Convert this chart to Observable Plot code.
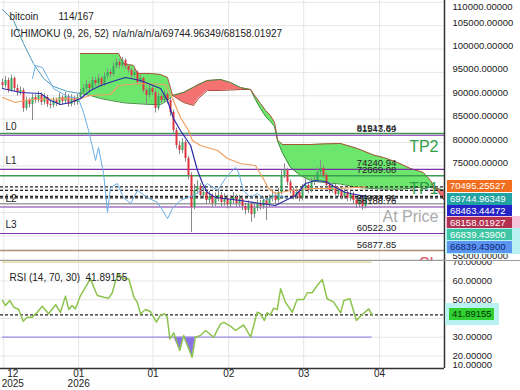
<!DOCTYPE html>
<html><head><meta charset="utf-8">
<script src="https://cdn.jsdelivr.net/npm/d3@7"></script>
<script src="https://cdn.jsdelivr.net/npm/@observablehq/plot@0.6"></script>
<style>
body{margin:0;background:#fff;font-family:"Liberation Sans",Arial,sans-serif;}
#wrap{position:relative;width:520px;height:390px;overflow:hidden;background:#fff;}
#wrap svg{position:absolute;left:0;}
.tag{position:absolute;height:12px;line-height:12px;font-size:9.5px;white-space:nowrap;box-sizing:border-box;}
.halo{position:absolute;}
</style></head><body><div id="wrap"></div><script>
// ---------- data ----------
const firstOpen = 92800;
const closes = [92194,93264,91124,93692,91552,90696,91124,87272,88984,88128,
89626,88984,90054,88556,89626,88128,87914,88984,88342,89626,
88770,89840,88128,89412,88556,89626,90696,91552,92408,91552,
93264,92622,93692,92408,94120,94976,94548,96260,97116,96474,
97544,96260,95404,94334,94976,92836,93692,91124,90054,91552,
90696,87272,89840,88984,90268,88984,86416,82564,79354,78284,
79996,76572,72934,66086,69724,70580,68654,69296,67584,68440,
66942,68012,68654,67156,68012,66728,67584,68226,66942,67798,
66300,65444,66728,64588,65872,66942,66300,67584,66728,68012,
68654,67584,69296,72934,74004,71436,69724,68440,69296,68012,
70152,70794,69724,71436,71864,73576,74432,72934,70794,69724,
70580,68868,69724,68440,69296,68012,68868,67584,66728,67584,
66300,68158];
const highs = [93600,94100,93800,94400,94000,92300,91900,91600,89700,89500,
90300,90200,90900,90600,90400,90100,88800,89600,89500,90500,
90000,90700,90300,90200,89900,90300,91400,92300,93200,92900,
94000,93900,94500,94100,94900,95800,95600,97000,97900,97700,
98200,97900,96700,95900,95700,95300,94400,94000,91700,92200,
92000,91200,90500,90400,91000,90700,89400,86900,83100,80200,
80800,80400,77000,73500,71000,71800,71200,70400,69900,69500,
69000,69200,70000,69300,69000,68700,68600,69300,68800,68700,
68400,67000,67500,67200,66700,67700,67600,68300,68200,68800,
69500,69200,70200,74100,75400,74500,72000,70300,70000,69900,
71000,72600,71300,72300,72800,74600,76100,75000,73400,71400,
71300,71000,70400,70200,70000,69800,69600,69400,68100,68300,
68000,68800];
const lows = [91500,91700,90600,90800,90900,89900,90100,86500,86800,87400,
84700,88300,88500,87900,88000,87500,87200,87400,87700,87900,
88100,88300,87500,87600,87900,88000,89100,90200,91000,90900,
91100,92000,92100,91800,92000,93600,93900,94100,95700,95800,
96000,95600,94800,93700,93800,92200,92300,90500,88000,89500,
90000,86300,86800,88300,88400,88200,85600,81800,78600,77400,
77600,75800,72000,60700,65600,68900,67800,67900,66700,66900,
66000,66300,67300,66200,66400,65800,66000,66900,66100,66200,
65400,64500,64800,62900,63800,65200,65500,65700,63300,66100,
67300,66800,67000,68800,72300,70800,69000,67700,67900,67300,
67500,69600,69000,69200,70800,71300,73000,72300,70100,69000,
69100,68200,68300,67700,67900,67300,67400,66800,65900,66100,
65500,65800];

const tenkanIdx = [0,6,12.7,16,19.3,22.7,26,29.3,32.7,37.7,41,46,52.7,55,57,59.3,62.7,65,66.7,68.3,71,79.3,86,91,94.3,97.7,101,104.3,107.7,111,114.3,117.7,121];
const tenkanVal = [91552,90696,90482,88984,88128,88556,89412,91124,92194,93264,93906,93264,91552,88984,85132,82564,79354,74004,71222,69296,68226,67584,66942,66514,67584,68654,71222,71864,71650,70366,69296,68868,68463.44472];

const kijunIdx = [0,4.3,9.3,26,29.3,36,38.7,46,54.3,56.7,59.3,62,63.3,66,71.7,75,79.3,84.3,86.7,88.7,91,96,102.7,111,121];
const kijunVal = [89626,88556,89198,89412,90054,90268,92194,92622,92408,89412,85346,82564,80424,79354,78284,76572,75502,75074,72506,70152,69082,69724,70152,70152,70495.25527];

const leadIdx = [0,3.7,7,10.3,13.7,17,21.7,26];
const leadVal = [108458,106104,101182,96902,93692,91980,90910,90482];

const cloudIdx = [26,29.3,32.7,36,38.7,40.3,43.7,45,49.3,52.7,55,56.7,60.3,63.7,65.3,68.3,72.7,76,79.3,82.7,84.3,86,87.7,89.3,90.7,91.7,93.3,96,99.3,102.7,107,112.7,118.3,123.7,127,131.7,136,140.3,142.7,144,145,147.3];
const cloudA = [90482,90054,89412,88984,88700,88500,88342,88300,88128,88128,88984,90054,90696,91800,92400,93264,93478,92836,91766,91338,89198,87272,85560,84490,83400,80300,77800,74646,72934,71864,71436,71100,70366,70152,70050,70000,70200,70500,70366,70250,70150,69745];
const cloudB = [99042,99042,99042,99042,99042,96902,96474,94762,94762,94548,93906,90054,88556,87914,89412,91124,91124,91230,91338,91338,89840,88342,86844,85774,84276,80500,79568,79568,79568,79568,79700,79782,78712,77300,76786,75716,74432,73576,71864,70250,69724,67584];

const chikouIdx = [10,11,13.3,17,21.7,25.3,27,28.7,31,32,33.7,35,36,38.3,40.3,42.7,45,48.3,51.7,55,56.7,59.3,61.7,63.7,66,68.3,71.7,74.3,76,77.7,78.7,80.3,82.7,85,87.7,91,95];
const chikouVal = [93692,96474,96046,91552,89840,89412,86416,82564,76144,78926,73362,65016,70366,71222,68226,66942,69724,68226,67156,63732,65872,67584,68226,68654,69724,71222,69724,72292,73576,74646,73576,69724,68226,69082,67584,68654,68158];

const rsiIdx = [0,1,2.4,3.8,5.4,6.9,8.2,9.9,11.6,13.2,15.4,17.7,19.3,21,22.1,23.2,24.3,26,29.3,31.6,33.8,35.4,36.6,37.7,38.8,39.9,42.1,43.8,44.9,46,47.7,49.3,51.3,52.7,54,54.9,55.8,57.1,59.1,60.4,63.2,64.3,66,67.7,70.4,72.7,73.8,76,77.7,80.4,82.7,84.9,86,87.3,88.2,89.3,90.4,91.6,92.7,94.3,96.6,98.2,100.4,101.6,103.2,104.9,106.6,108.2,110.4,112.7,113.8,115.8,118,119.3,122.1,123.2];
const rsiVal = [49.6,46.9,49.6,46.0,44.8,38.5,40.7,40.7,43.3,46.5,42.5,47.3,43.3,51.9,44.8,46.9,45.1,52.2,61.1,52.2,51.3,50.8,53.7,60.2,63.8,61.5,61.1,51.3,48.7,42.5,44.8,43.7,38.0,41.9,42.5,40.7,29.1,32.3,22.9,30.9,19.3,30.0,30.9,33.6,30.0,37.1,37.9,35.9,33.6,36.6,30.0,43.3,42.5,38.9,43.0,41.9,45.5,44.8,55.8,48.7,43.3,50.1,50.1,53.7,53.7,57.6,60.8,50.5,48.7,43.0,49.6,50.5,38.9,41.2,45.1,41.89155];
const rsiLevels = [70, 30];
const rsiTicks = [70, 60, 50, 30, 20];
const rsiGrid = [60, 50, 40, 30, 20];

const levelValues = [81917.84, 81543.69, 74240.94, 72869.08, 66888.31, 66188.76, 60522.30, 56877.85];
const levelKind = ["TP","L","L","TP","AP","L","L","SL"];
const pivotNames = ["L0","L1","L2","L3"];
const signValues = [81917.84, 72869.08, 66888.31, 56877.85];
const signNames = ["TP2","TP1","At Price","SL"];
const dashValues = [70495.25527, 69744.96349, 68463.44472, 68158.01927];
const tagValues = [70495.25527, 69744.96349, 68463.44472, 68158.01927, 66839.43900, 66839.43900];

const priceTicks = [55000,60000,65000,70000,75000,80000,85000,90000,95000,100000,105000,110000];
const xTickIdx = [0.43, 25.4, 50.2, 75.4, 100.4, 125.7];
const xTickLabels = ["12\n2025","01\n2026","01","02","03","04"];

// ---------- styles ----------
const font = '"Liberation Sans", Arial, sans-serif';
const tagBg = ["#f26d1d","#22a3a3","#2424c8","#b3304e","#3fc6a4","#5b95ee"];
const tagFg = ["#fff","#fff","#fff","#fff","#fff","#0b1f7a"];
const grid = "#e6e6e6";

// ---------- tables ----------
const xDomain = [-2/3, 442/3];
const candles = closes.map((c,i)=>({i, o: i ? closes[i-1] : firstOpen, c, h: highs[i], l: lows[i]}));
const pts = (idx, val) => idx.map((i,k)=>({i, v: val[k]}));
const tenkan = pts(tenkanIdx, tenkanVal), kijun = pts(kijunIdx, kijunVal);
const lead = pts(leadIdx, leadVal), chikou = pts(chikouIdx, chikouVal), rsi = pts(rsiIdx, rsiVal);
const cloud = cloudIdx.map((i,k)=>({i, a: cloudA[k], b: cloudB[k]}));
const cloudRows = [];
{ let seg = 0, cur = [], sign = 0;
  const flush = () => { if (cur.length > 1) cur.forEach(d => cloudRows.push({...d, seg, sign})); seg++; };
  for (const d of cloud) {
    const s = Math.sign(d.b - d.a);
    if (s === 0) { cur.push(d); flush(); cur = [d]; sign = 0; continue; }
    if (sign !== 0 && s !== sign) { const last = cur[cur.length-1]; flush(); cur = [last]; }
    sign = s; cur.push(d);
  }
  flush();
}
const levels = levelValues.map((v,k)=>({v, kind: levelKind[k]}));
const pivots = levels.filter(d=>d.kind==="L").map((d,k)=>({...d, name: pivotNames[k]}));
const signs = signValues.map((v,k)=>({v, name: signNames[k]}));
const xTicks = xTickIdx.map((i,k)=>({i, label: xTickLabels[k]}));
const fmt5 = d3.format(".5f");
const lastRsi = rsi[rsi.length-1];

const main = Plot.plot({
  width: 520, height: 260, marginTop: 0, marginBottom: 0, marginLeft: 0, marginRight: 76,
  style: {fontFamily: font, fontSize: "9.5px", background: "white", overflow: "hidden"},
  x: {domain: xDomain, axis: null},
  y: {domain: [54744, 110384], axis: null},
  marks: [
    Plot.ruleY(priceTicks, {stroke: grid}),
    Plot.ruleX(xTickIdx, {stroke: grid}),
    Plot.areaY(cloudRows, {filter: d => d.sign > 0, x: "i", y1: "a", y2: "b", z: "seg", fill: "#6ce66c"}),
    Plot.areaY(cloudRows, {filter: d => d.sign < 0, x: "i", y1: "a", y2: "b", z: "seg", fill: "#f47272"}),
    Plot.line(cloud, {x: "i", y: "a", stroke: "#3b8f3b", strokeWidth: 1}),
    Plot.line(cloud, {x: "i", y: "b", stroke: "#a8503a", strokeWidth: 1}),
    Plot.line(lead, {x: "i", y: "v", stroke: "#4d9cc0", strokeWidth: 1}),
    Plot.ruleY(levels, {filter: d => d.kind === "TP", y: "v", stroke: "#3d9b52", strokeWidth: 1.4}),
    Plot.ruleY(levels, {filter: d => d.kind === "L", y: "v", stroke: "#7b2fa8", strokeWidth: 1.2}),
    Plot.ruleY(levels, {filter: d => d.kind === "AP", y: "v", stroke: "#a0a0a0", strokeWidth: 1.4}),
    Plot.ruleY(levels, {filter: d => d.kind === "SL", y: "v", stroke: "#a88f7e", strokeWidth: 1.4}),
    Plot.ruleY(dashValues, {stroke: "#222", strokeDasharray: "3,2", strokeWidth: 1.3}),
    Plot.ruleX(candles, {x: "i", y1: "l", y2: "h", stroke: "#8a8a8a", strokeWidth: 1}),
    Plot.ruleX(candles, {filter: d => d.c >= d.o, x: "i", y1: "o", y2: "c", stroke: "#36a85a", strokeWidth: 2}),
    Plot.ruleX(candles, {filter: d => d.c < d.o, x: "i", y1: "o", y2: "c", stroke: "#e0333f", strokeWidth: 2}),
    Plot.line(chikou, {x: "i", y: "v", stroke: "#6aaee6", strokeWidth: 1}),
    Plot.line(kijun, {x: "i", y: "v", stroke: "#f0a060", strokeWidth: 1.2}),
    Plot.line(tenkan, {x: "i", y: "v", stroke: "#2a2aa8", strokeWidth: 1.2}),
    Plot.ruleX([xDomain[1]], {stroke: "#333", strokeWidth: 1.5}),
    // level value labels
    Plot.text(levels, {y: "v", text: d => d.v.toFixed(2), frameAnchor: "right", dx: -68, dy: -6, textAnchor: "middle", fill: "#222", fontSize: 9.5}),
    Plot.text(pivots, {y: "v", text: "name", frameAnchor: "left", dx: 5, dy: -8.5, textAnchor: "start", fill: "#222", fontSize: 10}),
    Plot.text(signs, {filter: d => d.name.startsWith("TP"), y: "v", text: "name", frameAnchor: "right", dx: -6, dy: 13, textAnchor: "end", fill: "#2f9d4a", fontSize: 16}),
    Plot.text(signs, {filter: d => d.name === "At Price", y: "v", text: "name", frameAnchor: "right", dx: -6, dy: 13, textAnchor: "end", fill: "#aaaaaa", fontSize: 16}),
    Plot.text(signs, {filter: d => d.name === "SL", y: "v", text: "name", frameAnchor: "right", dx: -6, dy: 13, textAnchor: "end", fill: "#e0506a", fontSize: 16}),
    // price axis labels
    Plot.text(priceTicks.filter(t => t < 110000), {y: d => d, text: fmt5, frameAnchor: "right", dx: 8, dy: -3, textAnchor: "start", fill: "#222", fontSize: 9.5}),
    Plot.text(priceTicks.filter(t => t >= 110000), {y: d => d, text: fmt5, frameAnchor: "right", dx: 8, dy: 5, textAnchor: "start", fill: "#222", fontSize: 9.5}),
    // header
    Plot.text(["bitcoin"], {text: d => d, frameAnchor: "top-left", dx: 9, dy: 12, textAnchor: "start", fill: "#222", fontSize: 10}),
    Plot.text(["114/167"], {text: d => d, frameAnchor: "top-left", dx: 58, dy: 12, textAnchor: "start", fill: "#222", fontSize: 10}),
    Plot.text(["ICHIMOKU (9, 26, 52)"], {text: d => d, frameAnchor: "top-left", dx: 10, dy: 29, textAnchor: "start", fill: "#222", fontSize: 10}),
    Plot.text(["n/a/n/a/n/a/" + dashValues[1].toFixed(5) + "/" + dashValues[3].toFixed(5)], {text: d => d, frameAnchor: "top-left", dx: 112, dy: 29, textAnchor: "start", fill: "#222", fontSize: 10})
  ]
});

const rsiPlot = Plot.plot({
  width: 520, height: 130, marginTop: 0, marginBottom: 22, marginLeft: 0, marginRight: 76,
  style: {fontFamily: font, fontSize: "9.5px", background: "white"},
  x: {domain: xDomain, axis: null},
  y: {domain: [13.31, 70.91], axis: null},
  marks: [
    Plot.ruleY(rsiGrid, {stroke: grid}),
    Plot.ruleX(xTickIdx, {stroke: grid}),
    Plot.areaY(rsi, {x: "i", y1: 30, y2: d => Math.min(d.v, 30), fill: "#8a72e6"}),
    Plot.ruleY([rsiLevels[0]], {x1: rsi[0].i, x2: lastRsi.i, stroke: "#ddd590", strokeWidth: 1.3}),
    Plot.ruleY([rsiLevels[1]], {x1: rsi[0].i, x2: lastRsi.i, stroke: "#9b8ee8", strokeWidth: 1.3}),
    Plot.ruleY([lastRsi.v], {stroke: "#222", strokeDasharray: "3,2", strokeWidth: 1.3}),
    Plot.line(rsi, {x: "i", y: "v", stroke: "#8dc44e", strokeWidth: 1.5}),
    Plot.ruleX([xDomain[1]], {stroke: "#333", strokeWidth: 1.5}),
    Plot.ruleY([13.31], {stroke: "#333", strokeWidth: 1.5}),
    Plot.text(rsiTicks, {y: d => d, text: fmt5, frameAnchor: "right", dx: 8, textAnchor: "start", fill: "#222", fontSize: 9.5}),
    Plot.text([10], {y: d => d, text: fmt5, frameAnchor: "right", dx: 8, dy: -10, textAnchor: "start", fill: "#222", fontSize: 9.5}),
    Plot.text(["RSI (14, 70, 30)"], {text: d => d, frameAnchor: "top-left", dx: 9, dy: 13, textAnchor: "start", fill: "#222", fontSize: 10}),
    Plot.text([lastRsi.v], {text: d => d.toFixed(5), frameAnchor: "top-left", dx: 85, dy: 13, textAnchor: "start", fill: "#222", fontSize: 10}),
    Plot.text(xTicks.slice(0,1), {x: "i", text: "label", frameAnchor: "bottom", lineAnchor: "top", dy: 2, dx: 9, fill: "#222", fontSize: 10, lineHeight: 0.95}),
    Plot.text(xTicks.slice(1), {x: "i", text: "label", frameAnchor: "bottom", lineAnchor: "top", dy: 2, fill: "#222", fontSize: 10, lineHeight: 0.95})
  ]
});

const wrap = document.getElementById("wrap");
main.style.top = "0px";
rsiPlot.style.top = "260px";
wrap.appendChild(main);
wrap.appendChild(rsiPlot);
const sep = document.createElement("div");
sep.style.cssText = "position:absolute;left:0;top:260px;width:520px;height:1px;background:#9a9a9a;";
wrap.appendChild(sep);

// value tags on the price axis
const ys = main.scale("y");
let prev = -Infinity;
tagValues.forEach((v, k) => {
  const y = Math.max(ys.apply(v), prev + 12.2); prev = y;
  if (k >= 3) {
    const h = document.createElement("div"); h.className = "halo";
    h.style.cssText = `left:445px;top:${y-7}px;width:75px;height:14px;background:${k===3?"#f7c6de":"#b9f1f3"};`;
    wrap.appendChild(h);
  }
  const t = document.createElement("div"); t.className = "tag";
  t.textContent = v.toFixed(5);
  t.style.cssText += `left:447px;top:${y-6}px;width:65px;padding-left:3px;background:${tagBg[k]};color:${tagFg[k]};`;
  wrap.appendChild(t);
});
// RSI tag
{
  const ry = 260 + rsiPlot.scale("y").apply(lastRsi.v);
  const h = document.createElement("div"); h.className = "halo";
  h.style.cssText = `left:445px;top:${ry-11}px;width:54px;height:22px;background:#b9f1f3;`;
  wrap.appendChild(h);
  const t = document.createElement("div"); t.className = "tag";
  t.textContent = lastRsi.v.toFixed(5);
  t.style.cssText += `left:449px;top:${ry-6}px;width:45px;padding-left:3px;background:#30d030;color:#063306;`;
  wrap.appendChild(t);
}
</script></body></html>
